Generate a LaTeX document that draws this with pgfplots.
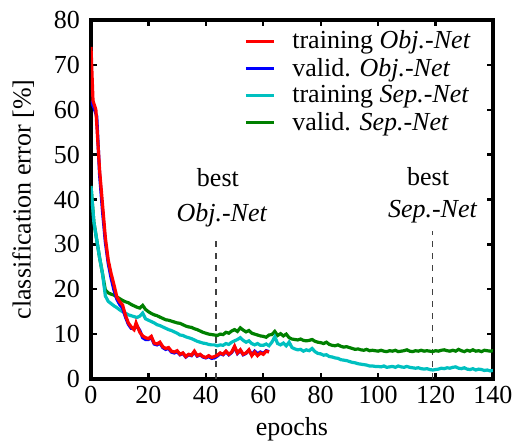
\documentclass[border=0pt]{standalone}
\usepackage{pgfplots}
\pgfplotsset{compat=1.18}
\usepackage{fontspec}
\setmainfont{Liberation Serif}
\definecolor{cred}{RGB}{255,0,0}
\definecolor{cblue}{RGB}{0,0,255}
\definecolor{ccyan}{RGB}{0,192,192}
\definecolor{cgreen}{RGB}{0,128,0}
\begin{document}
\begin{tikzpicture}
\path[use as bounding box] (-45.5pt,-34.5pt) rectangle (212.5pt,189.5pt);
\begin{axis}[
  at={(0,0)}, anchor=south west,
  scale only axis, width=201pt, height=179.5pt,
  xmin=0, xmax=140, ymin=0, ymax=80,
  xtick={0,20,...,140}, ytick={0,10,...,80},
  xtick pos=both, ytick pos=both,
  tick align=inside, major tick length=3pt,
  every tick/.style={black, line width=1.2pt},
  axis line style={line width=1.6pt},
  font=\fontsize{13}{15.6}\selectfont,
  /pgf/number format/assume math mode=true,
  xlabel={epochs}, ylabel={classification error [\%]},
  xlabel style={yshift=0pt},
  ylabel style={yshift=3pt},
  yticklabel style={xshift=-2pt},
  legend style={at={(0.38,0.98)}, anchor=north west, draw=none, fill=none,
    font=\fontsize{13}{13}\selectfont, inner sep=0pt, row sep=0.2pt,
    nodes={inner sep=1.5pt},
    /tikz/every odd column/.append style={column sep=7pt}},
  legend cell align=left,
  legend image code/.code={\draw[#1, line width=1.6pt] (0pt,0pt) -- (14pt,0pt);},
]
\addlegendimage{cred}\addlegendentry{training \textit{Obj.-Net}}
\addlegendimage{cblue}\addlegendentry{valid. \textit{Obj.-Net}}
\addlegendimage{ccyan}\addlegendentry{training \textit{Sep.-Net}}
\addlegendimage{cgreen}\addlegendentry{valid. \textit{Sep.-Net}}

% dashed markers
\addplot[forget plot, black!75, dashed, line width=0.8pt] coordinates {(43.5,0) (43.5,32)};
\addplot[forget plot, black!75, dashed, line width=0.8pt] coordinates {(119,0) (119,33)};

% valid. Sep.-Net
\addplot[forget plot, cgreen, line width=1.6pt] coordinates {
(0,43) (1,35) (2,31) (3,27) (4,23.5) (5,19.8) (6,19.2) (7,18.9) (8,18.7) (9,18.3)
(10,17.9) (11,17.5) (12,17.2) (13,17.0) (14,16.6) (15,16.3) (16,16.0) (17,15.8) (18,16.4) (19,15.5)
(20,15.0) (21,14.6) (22,14.3) (23,14.1) (24,13.8) (25,13.5) (26,13.2) (27,13.1) (28,12.9) (29,12.7)
(30,12.5) (31,12.4) (32,12.1) (33,11.8) (34,11.6) (35,11.5) (36,11.2) (37,11.0) (38,10.7) (39,10.4)
(40,10.2) (41,10.0) (42,9.9) (43,9.8) (44,9.7) (45,10.0) (46,9.9) (47,10.4) (48,10.2) (49,10.7)
(50,11.0) (51,10.6) (52,11.4) (53,10.9) (54,10.5) (55,10.8) (56,10.2) (57,10.0) (58,9.8) (59,9.6)
(60,9.5) (61,9.3) (62,9.8) (63,9.9) (64,10.6) (65,9.7) (66,10.1) (67,9.6) (68,10.0) (69,9.2)
(70,8.9) (71,8.8) (72,8.7) (73,8.9) (74,8.6) (75,8.5) (76,8.6) (77,8.8) (78,8.4) (79,8.2)
(80,8.1) (81,7.9) (82,8.2) (83,7.7) (84,7.5) (85,7.4) (86,7.6) (87,7.3) (88,7.1) (89,7.2)
(90,7.0) (91,6.8) (92,6.6) (93,6.7) (94,6.5) (95,6.4) (96,6.6) (97,6.3)
(98,6.4) (99,6.3) (100,6.2) (101,6.4) (102,6.2) (103,6.1) (104,6.3) (105,6.2) (106,6.4) (107,6.1)
(108,6.2) (109,6.3) (110,6.5) (111,6.2) (112,6.1) (113,6.3) (114,6.2) (115,6.4) (116,6.2) (117,6.3)
(118,6.2) (119,6.1) (120,6.3) (121,6.2) (122,6.4) (123,6.5) (124,6.3) (125,6.2) (126,6.4) (127,6.2)
(128,6.6) (129,6.3) (130,6.1) (131,6.4) (132,6.2) (133,6.5) (134,6.2) (135,6.3) (136,6.1) (137,6.4)
(138,6.3) (139,6.2) (140,6.3)
};

% training Sep.-Net
\addplot[forget plot, ccyan, line width=1.6pt] coordinates {
(0,43) (1,35) (2,31) (3,27) (4,23.5) (5,18.5) (6,17.3) (7,16.8) (8,16.3) (9,15.9)
(10,15.4) (11,15.0) (12,14.7) (13,14.3) (14,14.1) (15,13.9) (16,13.7) (17,14.0) (18,14.7) (19,13.4)
(20,13.1) (21,12.8) (22,12.5) (23,12.1) (24,11.9) (25,11.6) (26,11.3) (27,11.0) (28,10.8) (29,10.5)
(30,10.2) (31,9.8) (32,9.7) (33,9.4) (34,9.2) (35,9.0) (36,8.7) (37,8.4) (38,8.2) (39,8.0)
(40,7.9) (41,7.7) (42,7.6) (43,7.6) (44,7.4) (45,7.6) (46,7.5) (47,7.9) (48,7.7) (49,8.2)
(50,8.5) (51,8.8) (52,9.2) (53,8.6) (54,8.2) (55,8.5) (56,7.9) (57,7.6) (58,7.9) (59,7.5)
(60,7.5) (61,7.8) (62,7.4) (63,8.2) (64,9.4) (65,7.9) (66,7.6) (67,8.0) (68,7.4) (69,8.2)
(70,7.0) (71,6.7) (72,6.5) (73,6.6) (74,6.2) (75,6.5) (76,6.3) (77,6.8) (78,6.1) (79,5.7)
(80,5.6) (81,5.3) (82,5.4) (83,5.0) (84,4.9) (85,4.7) (86,4.6) (87,4.3) (88,4.2) (89,4.1)
(90,3.9) (91,3.7) (92,3.6) (93,3.4) (94,3.3) (95,3.2) (96,3.1) (97,2.9)
(98,2.9) (99,2.8) (100,2.8) (101,2.7) (102,2.9) (103,2.6) (104,2.7) (105,2.8) (106,2.6) (107,2.9)
(108,2.7) (109,2.6) (110,2.8) (111,2.6) (112,2.5) (113,2.4) (114,2.5) (115,2.3) (116,2.2) (117,2.3)
(118,2.1) (119,2.0) (120,2.1) (121,2.2) (122,2.4) (123,2.3) (124,2.5) (125,2.4) (126,2.6) (127,2.7)
(128,2.4) (129,2.3) (130,2.5) (131,2.2) (132,2.1) (133,2.3) (134,2.0) (135,2.2) (136,2.1) (137,1.9)
(138,2.0) (139,1.8) (140,1.9)
};

% valid. Obj.-Net
\addplot[forget plot, cblue, line width=1.6pt] coordinates {
(0,62) (1,60.5) (2,58.5) (3,45.5) (4,37.5) (5,30.5) (6,25.8) (7,22.5) (8,19.8) (9,17.8)
(10,16.6) (11,15.8) (12,13.8) (13,12.2) (14,11.3) (15,11.2) (16,11.8) (17,10.8) (18,9.2) (19,8.8)
(20,8.8) (21,9.3) (22,7.8) (23,7.6) (24,8.0) (25,7.0) (26,6.6) (27,6.8) (28,6.0) (29,5.8)
(30,6.1) (31,5.4) (32,5.7) (33,4.9) (34,5.4) (35,5.2) (36,6.0) (37,5.1) (38,5.4) (39,4.9)
(40,4.7) (41,5.0) (42,4.6) (43,4.7) (44,5.1) (45,5.7) (46,5.4) (47,6.1) (48,5.4) (49,5.9)
(50,7.1) (51,5.7) (52,6.4) (53,5.4) (54,5.7) (55,6.4) (56,5.4) (57,6.2) (58,5.6) (59,6.0)
(60,5.7) (61,6.3) (62,6.1)
};

% training Obj.-Net
\addplot[forget plot, cred, line width=1.6pt] coordinates {
(0,74) (0.7,62) (1.7,60) (3,46.5) (4,39) (5,31.5) (6,26.5) (7,23.5) (8,21) (9,18.3)
(10,17.2) (11,16.5) (12,14.2) (13,12.5) (14,11.6) (15,11.0) (15.7,12.5) (17,10.4) (18,9.6) (19,9.2)
(20,9.0) (21,9.5) (22,8.0) (23,7.8) (24,8.2) (25,7.2) (26,6.8) (27,7.0) (28,6.2) (29,6.0)
(30,6.3) (31,5.5) (32,5.8) (33,5.0) (34,5.5) (35,5.3) (36,6.2) (37,5.2) (38,5.5) (39,5.0)
(40,4.8) (41,5.2) (42,4.8) (43,5.0) (44,5.3) (45,5.8) (46,5.5) (47,6.2) (48,5.5) (49,6.0)
(50,7.3) (51,5.8) (52,6.5) (53,5.5) (54,5.8) (55,6.5) (56,5.2) (57,6.0) (58,5.2) (59,5.8)
(60,5.5) (61,6.2) (62,6.0)
};

\node[anchor=base] at (axis cs:44.2,42.8) {best};
\node[anchor=base] at (axis cs:45.6,35) {\textit{Obj.-Net}};
\node[anchor=base] at (axis cs:117.4,43.2) {best};
\node[anchor=base] at (axis cs:119,36) {\textit{Sep.-Net}};
\end{axis}
\end{tikzpicture}
\end{document}
